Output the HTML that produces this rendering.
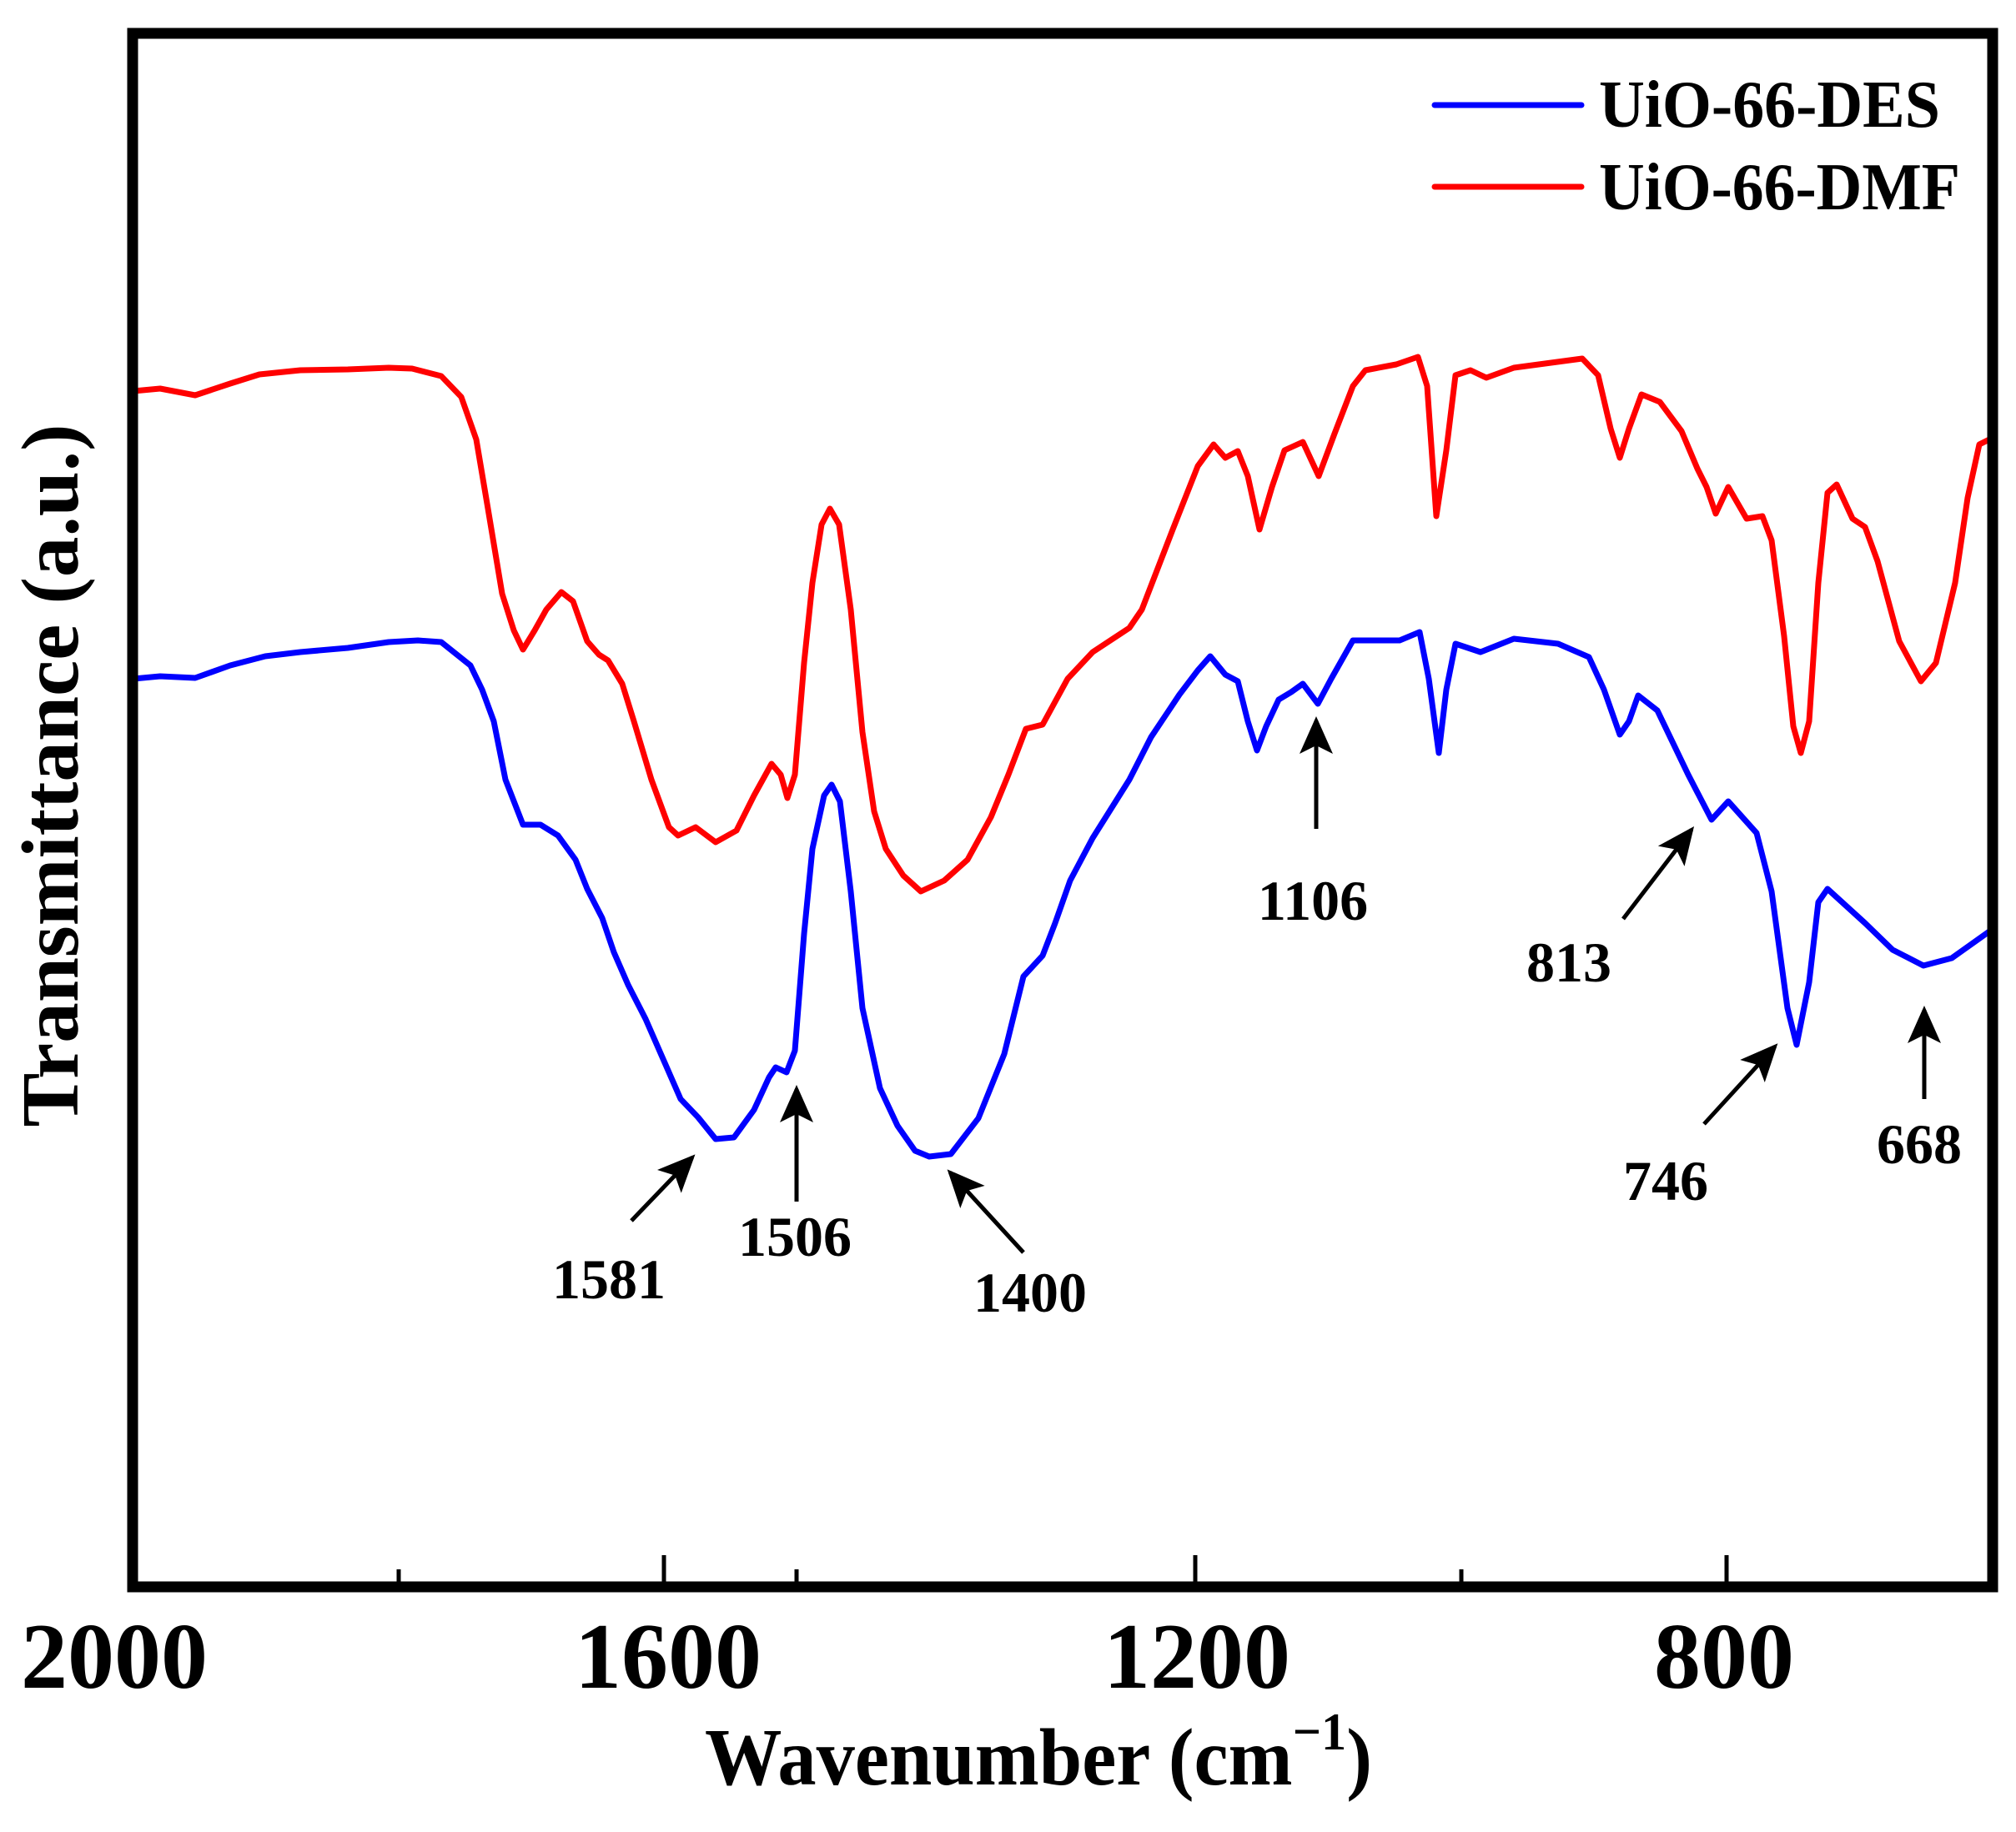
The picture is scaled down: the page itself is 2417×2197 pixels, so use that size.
<!DOCTYPE html>
<html><head><meta charset="utf-8"><style>
html,body{margin:0;padding:0;background:#fff;}
svg{display:block;}
text{font-family:"Liberation Serif",serif;font-weight:bold;fill:#000;}
</style></head><body>
<svg width="2417" height="2197" viewBox="0 0 2417 2197" xmlns="http://www.w3.org/2000/svg">
<rect width="2417" height="2197" fill="#fff"/>
<polyline fill="none" stroke="#ff0000" stroke-width="7" stroke-linejoin="round" stroke-linecap="round" points="160,469 192,466 234,474 276,460 311,449 360,444 417,443 466,441 494,442 529,451 553,476 571,527 585,610 602,712 616,756 627,779 641,756 655,731 673,710 687,721 704,769 718,785 729,792 746,820 760,865 781,935 802,992 813,1002 834,992 858,1010 883,996 904,954 925,916 936,929 944,957 953,929 964,795 974,699 985,629 995,610 1006,629 1020,731 1034,878 1048,973 1062,1018 1083,1050 1104,1069 1132,1056 1160,1031 1188,980 1209,929 1230,874 1250,869 1280,814 1310,782 1354,753 1369,731 1406,635 1436,559 1455,533 1469,549 1484,541 1496,571 1510,635 1525,584 1540,540 1562,530 1581,571 1600,520 1622,463 1637,444 1674,437 1700,428 1711,463 1722,619 1734,540 1745,450 1763,444 1782,453 1815,441 1897,430 1916,450 1931,514 1942,549 1953,514 1968,473 1990,482 2016,517 2035,562 2046,584 2057,616 2072,584 2094,622 2113,619 2124,648 2139,763 2150,871 2159,903 2169,865 2180,699 2191,591 2202,581 2221,622 2236,632 2251,673 2277,769 2303,817 2321,795 2344,699 2359,597 2373,533 2385,527"/>
<polyline fill="none" stroke="#0000ff" stroke-width="7" stroke-linejoin="round" stroke-linecap="round" points="160,814 192,811 234,813 276,798 318,787 360,782 417,777 466,770 501,768 529,770 564,798 578,827 592,865 606,935 627,989 648,989 669,1002 690,1031 704,1066 722,1101 736,1142 753,1181 774,1222 795,1270 816,1318 837,1340 858,1366 880,1364 904,1331 922,1292 930,1280 943,1286 953,1260 964,1120 974,1018 988,954 997,941 1007,961 1020,1069 1034,1209 1055,1305 1076,1350 1097,1380 1114,1387 1140,1384 1173,1341 1204,1264 1227,1171 1250,1146 1265,1107 1283,1056 1310,1005 1354,935 1380,884 1414,833 1436,804 1451,787 1469,809 1484,817 1496,865 1507,900 1518,871 1533,839 1548,830 1562,820 1580,844 1596,814 1622,768 1678,768 1702,758 1713,814 1725,903 1734,827 1745,772 1775,782 1815,766 1868,772 1905,788 1923,827 1942,881 1953,865 1964,834 1987,852 2024,929 2052,983 2072,961 2106,999 2124,1069 2143,1209 2154,1253 2169,1178 2180,1082 2191,1066 2236,1107 2269,1139 2306,1158 2340,1149 2385,1117"/>
<rect x="159" y="40" width="2230" height="1863" fill="none" stroke="#000" stroke-width="13"/>
<g stroke="#000" stroke-width="5">
<line x1="478" y1="1903" x2="478" y2="1882"/>
<line x1="796" y1="1903" x2="796" y2="1865"/>
<line x1="955" y1="1903" x2="955" y2="1882"/>
<line x1="1433" y1="1903" x2="1433" y2="1865"/>
<line x1="1752" y1="1903" x2="1752" y2="1882"/>
<line x1="2070" y1="1903" x2="2070" y2="1865"/>
</g>
<g font-size="112" text-anchor="middle">
<text x="137" y="2024">2000</text>
<text x="801" y="2024">1600</text>
<text x="1435" y="2024">1200</text>
<text x="2067" y="2024">800</text>
</g>
<text x="1245" y="2140" font-size="98" text-anchor="middle" textLength="800" lengthAdjust="spacingAndGlyphs">Wavenumber (cm<tspan font-size="64" dy="-42">−1</tspan><tspan dy="42">)</tspan></text>
<text transform="translate(93,930) rotate(-90)" font-size="98" text-anchor="middle" textLength="843" lengthAdjust="spacingAndGlyphs">Transmittance (a.u.)</text>
<line x1="1720" y1="126" x2="1896" y2="126" stroke="#0000ff" stroke-width="7" stroke-linecap="round"/>
<line x1="1720" y1="224" x2="1896" y2="224" stroke="#ff0000" stroke-width="7" stroke-linecap="round"/>
<text x="1917" y="152" font-size="80" textLength="409" lengthAdjust="spacingAndGlyphs">UiO-66-DES</text>
<text x="1917" y="251" font-size="80" textLength="433" lengthAdjust="spacingAndGlyphs">UiO-66-DMF</text>
<defs><marker id="ah" markerWidth="9" markerHeight="8" refX="8" refY="4" orient="auto" markerUnits="strokeWidth"><path d="M0,0 L9,4 L0,8 L2,4 Z" fill="#000"/></marker></defs>
<g stroke="#000" stroke-width="5" marker-end="url(#ah)">
<line x1="757" y1="1464" x2="830" y2="1388"/>
<line x1="955" y1="1441" x2="955" y2="1306"/>
<line x1="1227" y1="1502" x2="1139" y2="1406"/>
<line x1="1578" y1="994" x2="1578" y2="864"/>
<line x1="1946" y1="1102" x2="2028" y2="995"/>
<line x1="2043" y1="1348" x2="2128" y2="1255"/>
<line x1="2307" y1="1318" x2="2307" y2="1211"/>
</g>
<g font-size="68" text-anchor="middle">
<text x="730" y="1557">1581</text>
<text x="953" y="1506">1506</text>
<text x="1235" y="1573">1400</text>
<text x="1574" y="1103">1106</text>
<text x="1881" y="1177">813</text>
<text x="1997" y="1439">746</text>
<text x="2301" y="1395">668</text>
</g>
</svg>
</body></html>
